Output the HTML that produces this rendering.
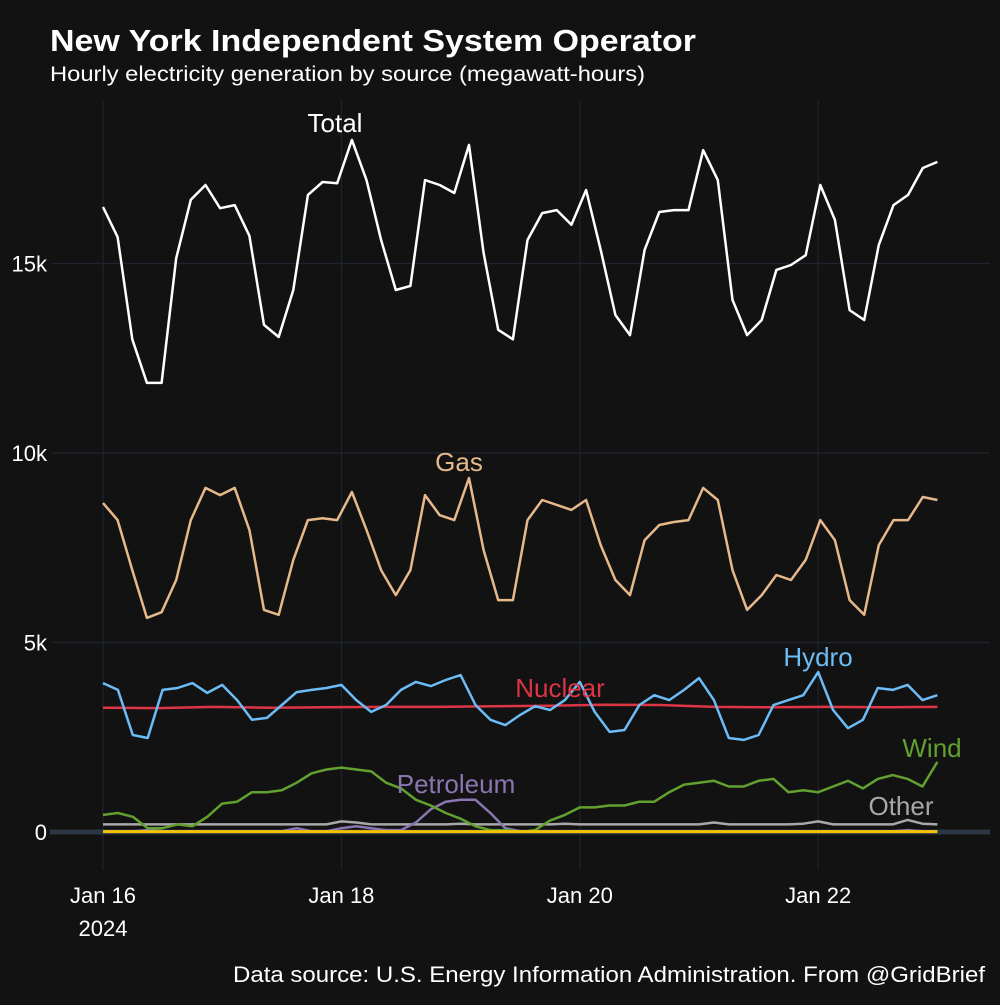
<!DOCTYPE html>
<html><head><meta charset="utf-8">
<style>
html,body{margin:0;padding:0;background:#121212;}
body{width:1000px;height:1000px;overflow:hidden;font-family:"Liberation Sans",Arial,sans-serif;}
svg text{font-family:"Liberation Sans",Arial,sans-serif;}
</style></head>
<body>
<svg id="chart" width="1000" height="1000" viewBox="0 0 1000 1000" xmlns="http://www.w3.org/2000/svg">
<rect x="0" y="0" width="1000" height="1000" fill="#121212"/>
<text x="50" y="51" fill="#ffffff" font-size="31" font-weight="bold" textLength="646" lengthAdjust="spacingAndGlyphs">New York Independent System Operator</text>
<text x="50" y="81" fill="#ffffff" font-size="21" textLength="595" lengthAdjust="spacingAndGlyphs">Hourly electricity generation by source (megawatt-hours)</text>
<g id="grid"></g>
<g id="yticks"></g>
<g id="xticks"></g>
<g id="series"></g>
<g id="labels"></g>
<text x="985" y="982" fill="#ffffff" font-size="22" text-anchor="end" textLength="752" lengthAdjust="spacingAndGlyphs">Data source: U.S. Energy Information Administration. From @GridBrief</text>
</svg>
<script>
// Data (thousand MWh), sampled every 3 hours from Jan 16 00:00 to Jan 23 00:00
const xTickLabels = ["Jan 16", "Jan 18", "Jan 20", "Jan 22"];
const xTickDays = [0, 2, 4, 6];
const yTickValues = [0, 5, 10, 15];
const yTickLabels = ["0", "5k", "10k", "15k"];
const totalValues = [16.49,15.7,13.0,11.85,11.85,15.14,16.68,17.07,16.46,16.54,15.73,13.38,13.06,14.3,16.81,17.15,17.12,18.26,17.2,15.62,14.3,14.41,17.2,17.07,16.86,18.13,15.28,13.25,13.0,15.62,16.33,16.41,16.02,16.94,15.36,13.64,13.11,15.36,16.36,16.41,16.41,17.99,17.2,14.04,13.11,13.51,14.83,14.96,15.22,17.07,16.15,13.77,13.51,15.49,16.54,16.81,17.52,17.68];
const gasValues = [8.68,8.23,6.91,5.65,5.80,6.65,8.23,9.08,8.89,9.08,7.97,5.86,5.73,7.18,8.23,8.28,8.23,8.97,7.97,6.91,6.25,6.91,8.89,8.36,8.23,9.34,7.44,6.12,6.12,8.23,8.76,8.63,8.50,8.76,7.57,6.65,6.25,7.70,8.10,8.18,8.23,9.08,8.76,6.91,5.86,6.25,6.78,6.65,7.18,8.23,7.70,6.12,5.73,7.57,8.23,8.23,8.84,8.76];
const hydroValues = [3.93,3.75,2.56,2.48,3.75,3.80,3.93,3.67,3.88,3.48,2.96,3.01,3.35,3.69,3.75,3.80,3.88,3.48,3.17,3.35,3.75,3.96,3.85,4.01,4.14,3.35,2.96,2.82,3.09,3.32,3.22,3.48,3.96,3.17,2.64,2.69,3.35,3.61,3.48,3.75,4.06,3.48,2.48,2.43,2.56,3.35,3.48,3.61,4.22,3.22,2.74,2.96,3.80,3.75,3.88,3.48,3.61];
const nuclearValues = [3.28,3.27,3.30,3.28,3.29,3.30,3.30,3.32,3.33,3.36,3.35,3.30,3.29,3.30,3.29,3.30];
const windValues = [0.45,0.5,0.4,0.1,0.1,0.2,0.15,0.4,0.75,0.8,1.05,1.05,1.1,1.3,1.55,1.65,1.7,1.65,1.6,1.3,1.15,0.85,0.7,0.5,0.35,0.15,0.05,0.05,0.0,0.05,0.3,0.45,0.65,0.65,0.7,0.7,0.8,0.8,1.05,1.25,1.3,1.35,1.2,1.2,1.35,1.4,1.05,1.1,1.05,1.2,1.35,1.15,1.4,1.5,1.4,1.2,1.85];
const petroleumValues = [0.02,0.02,0.02,0.05,0.02,0.02,0.02,0.02,0.02,0.02,0.02,0.02,0.02,0.1,0.02,0.02,0.1,0.15,0.1,0.05,0.05,0.25,0.6,0.8,0.85,0.85,0.5,0.1,0.02,0.02,0.02,0.02,0.02,0.02,0.02,0.02,0.02,0.02,0.02,0.02,0.02,0.02,0.02,0.02,0.02,0.02,0.02,0.02,0.02,0.02,0.02,0.02,0.02,0.02,0.05,0.02,0.02];
const otherValues = [0.2,0.2,0.2,0.2,0.2,0.2,0.2,0.2,0.2,0.2,0.2,0.2,0.2,0.2,0.2,0.2,0.28,0.25,0.2,0.2,0.2,0.2,0.2,0.2,0.22,0.2,0.2,0.2,0.2,0.2,0.2,0.22,0.2,0.2,0.2,0.2,0.2,0.2,0.2,0.2,0.2,0.25,0.2,0.2,0.2,0.2,0.2,0.22,0.28,0.2,0.2,0.2,0.2,0.2,0.32,0.22,0.2];
const solarValues = [0.01,0.01,0.01,0.01,0.01,0.01,0.01,0.01];

const NS = "http://www.w3.org/2000/svg";
const x0 = 103, pxPerDay = 119.2, totalDays = 7;
const y0 = 832, pxPerK = 37.9;
function xScale(day){ return x0 + day * pxPerDay; }
function yScale(v){ return y0 - v * pxPerK; }

const grid = document.getElementById('grid');
const yt = document.getElementById('yticks');
const xt = document.getElementById('xticks');
const ser = document.getElementById('series');
const lab = document.getElementById('labels');

yTickValues.forEach((v, i) => {
  if (v !== 0) {
    const l = document.createElementNS(NS, 'line');
    l.setAttribute('x1', 52); l.setAttribute('x2', 990);
    l.setAttribute('y1', yScale(v)); l.setAttribute('y2', yScale(v));
    l.setAttribute('stroke', '#1f2530'); l.setAttribute('stroke-width', 1.2);
    
    
    grid.appendChild(l);
  }
  const t = document.createElementNS(NS, 'text');
  t.setAttribute('x', 47); t.setAttribute('y', yScale(v) + 8);
  t.setAttribute('fill', '#ffffff'); t.setAttribute('font-size', '22');
  t.setAttribute('text-anchor', 'end');
  t.textContent = yTickLabels[i];
  
  
  yt.appendChild(t);
});

xTickDays.forEach((d, i) => {
  const l = document.createElementNS(NS, 'line');
  l.setAttribute('x1', xScale(d)); l.setAttribute('x2', xScale(d));
  l.setAttribute('y1', 100); l.setAttribute('y2', 870);
  l.setAttribute('stroke', '#1e242d'); l.setAttribute('stroke-width', 1.2);
  
  
  grid.appendChild(l);
  const t = document.createElementNS(NS, 'text');
  t.setAttribute('x', xScale(d)); t.setAttribute('y', 903);
  t.setAttribute('fill', '#ffffff'); t.setAttribute('font-size', '22');
  t.setAttribute('text-anchor', 'middle');
  t.textContent = xTickLabels[i];
  
  
  xt.appendChild(t);
});
const yr = document.createElementNS(NS, 'text');
yr.setAttribute('x', xScale(0)); yr.setAttribute('y', 936);
yr.setAttribute('fill', '#ffffff'); yr.setAttribute('font-size', '22');
yr.setAttribute('text-anchor', 'middle');
yr.textContent = '2024';


xt.appendChild(yr);

const base = document.createElementNS(NS, 'line');
base.setAttribute('x1', 50); base.setAttribute('x2', 990);
base.setAttribute('y1', yScale(0)); base.setAttribute('y2', yScale(0));
base.setAttribute('stroke', '#2c3744'); base.setAttribute('stroke-width', 5);


grid.appendChild(base);

function drawLine(vals, color, name, width) {
  const step = totalDays / (vals.length - 1);
  const pts = vals.map((v, i) => xScale(i * step).toFixed(1) + ',' + yScale(v).toFixed(1)).join(' ');
  const p = document.createElementNS(NS, 'polyline');
  p.setAttribute('points', pts);
  p.setAttribute('fill', 'none');
  p.setAttribute('stroke', color);
  p.setAttribute('stroke-width', width || 2.5);
  p.setAttribute('stroke-linejoin', 'round');
  
  
  ser.appendChild(p);
}
drawLine(otherValues, '#a8a8a8', 'other-line');
drawLine(petroleumValues, '#8a76b0', 'petroleum-line');
drawLine(windValues, '#62a030', 'wind-line');
drawLine(solarValues, '#f5c400', 'solar-line', 3);
drawLine(nuclearValues, '#dc3545', 'nuclear-line');
drawLine(hydroValues, '#6cbcf7', 'hydro-line');
drawLine(gasValues, '#e6b98a', 'gas-line');
drawLine(totalValues, '#ffffff', 'total-line');

function addLabel(txt, x, y, color, name) {
  const t = document.createElementNS(NS, 'text');
  t.setAttribute('x', x); t.setAttribute('y', y);
  t.setAttribute('fill', color); t.setAttribute('font-size', '26');
  t.setAttribute('text-anchor', 'middle');
  t.textContent = txt;
  
  
  lab.appendChild(t);
}
addLabel('Total', 335, 132, '#ffffff', 'total-label');
addLabel('Gas', 459, 471, '#e6b98a', 'gas-label');
addLabel('Hydro', 818, 666, '#6cbcf7', 'hydro-label');
addLabel('Nuclear', 560, 697, '#dc3545', 'nuclear-label');
addLabel('Wind', 932, 757, '#62a030', 'wind-label');
addLabel('Petroleum', 456, 793, '#8a76b0', 'petroleum-label');
addLabel('Other', 901, 815, '#a8a8a8', 'other-label');
</script>
</body></html>
